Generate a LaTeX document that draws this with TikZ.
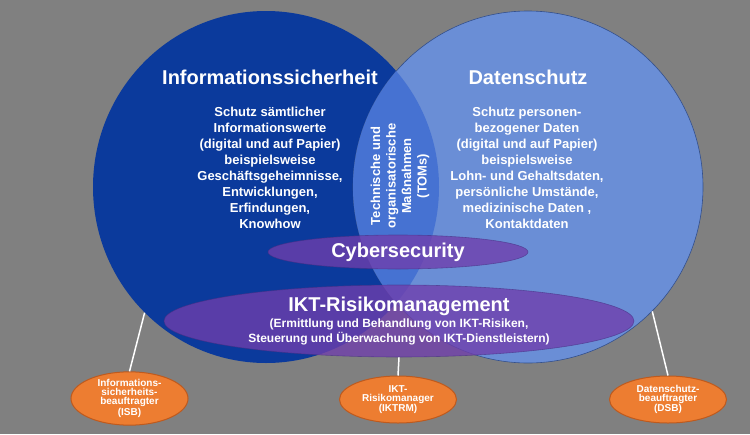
\documentclass[tikz,border=0pt]{standalone}
\usepackage{fontspec}
\setmainfont{Liberation Sans}
\usetikzlibrary{shapes.geometric}

\definecolor{bggray}{RGB}{128,128,128}
\definecolor{infoblue}{RGB}{11,58,156}
\definecolor{datenblue}{RGB}{106,142,214}
\definecolor{datenedge}{RGB}{52,80,140}
\definecolor{lensblue}{RGB}{70,114,210}
\definecolor{secpurple}{RGB}{112,62,172}
\definecolor{secedge}{RGB}{70,45,130}
\definecolor{roleorange}{RGB}{237,125,49}
\definecolor{roleedge}{RGB}{190,90,30}

\newcommand\subline{\fontsize{12}{15}\selectfont}

\tikzset{
  blob/.style={ellipse, inner sep=0pt},
  overlay blob/.style={blob, fill=secpurple, fill opacity=0.78, text opacity=1,
    draw=secedge, draw opacity=0.6, line width=0.6pt, text=white, align=center},
  headline/.style={text=white, font=\fontsize{20}{24}\selectfont\bfseries},
  bodytext/.style={text=white, align=center, font=\fontsize{13}{16}\selectfont\bfseries},
  role/.style={ellipse, fill=roleorange, draw=roleedge, line width=1pt,
    minimum width=117pt, minimum height=47pt, inner sep=0pt, text=white,
    align=center, font=\fontsize{10}{9}\selectfont\bfseries},
  link/.style={draw=white, line width=1.5pt}
}

\begin{document}
\begin{tikzpicture}[x=1pt, y=-1pt]

\def\xa{266} % centre Informationssicherheit
\def\xb{528} % centre Datenschutz
\def\yc{187} % centre height of both
\def\xm{398} % middle axis

\fill[bggray] (0,0) rectangle (750,434);
\useasboundingbox (0,0) rectangle (750,434);

% the two big sets
\node[blob, fill=infoblue, minimum width=346pt, minimum height=352pt] (info) at (\xa,\yc) {};
\node[blob, fill=datenblue, draw=datenedge, line width=0.6pt, minimum width=350pt, minimum height=352pt] (daten) at (\xb,\yc) {};

% overlap
\begin{scope}
  \clip (\xa,\yc) ellipse (173 and 176);
  \fill[lensblue] (\xb,\yc) ellipse (175 and 176);
\end{scope}

\node[headline] (infotitle) at (270,77) {Informationssicherheit};
\node[headline] (datentitle) at (528,77) {Datenschutz};

\node[bodytext] (infotext) at (270,168) {Schutz sämtlicher\\Informationswerte\\(digital und auf Papier)\\beispielsweise\\Geschäftsgeheimnisse,\\Entwicklungen,\\Erfindungen,\\Knowhow};
\node[bodytext] (datentext) at (527,168) {Schutz personen-\\bezogener Daten\\(digital und auf Papier)\\beispielsweise\\Lohn- und Gehaltsdaten,\\persönliche Umstände,\\medizinische Daten ,\\Kontaktdaten};
\node[bodytext, rotate=90, font=\fontsize{13}{15.5}\selectfont\bfseries] (toms) at (400,176) {Technische und\\organisatorische\\Maßnahmen\\(TOMs)};

% cyber and ikt
\node[overlay blob, minimum width=260pt, minimum height=34pt, font=\fontsize{20}{24}\selectfont\bfseries] (cyber) at (\xm,252) {Cybersecurity};
\node[overlay blob, minimum width=470pt, minimum height=72pt, font=\bfseries] (ikt) at (399,321)
  {\fontsize{20}{24}\selectfont IKT-Risikomanagement\\[2pt]
   \subline (Ermittlung und Behandlung von IKT-Risiken,\\[1pt]
   \subline Steuerung und Überwachung von IKT-Dienstleistern)};

% roles
\node[role] (isb) at (129.5,398.5) {Informations-\\sicherheits-\\beauftragter\\(ISB)};
\node[role] (iktrm) at (\xm,399.5) {IKT-\\Risikomanager\\(IKTRM)};
\node[role] (dsb) at (668,399.5) {Datenschutz-\\beauftragter\\(DSB)};

\draw[link] (info.226) -- (isb.north);
\draw[link] (ikt.south) -- (iktrm.north);
\draw[link] (daten.315) -- (dsb.north);

\end{tikzpicture}
\end{document}
